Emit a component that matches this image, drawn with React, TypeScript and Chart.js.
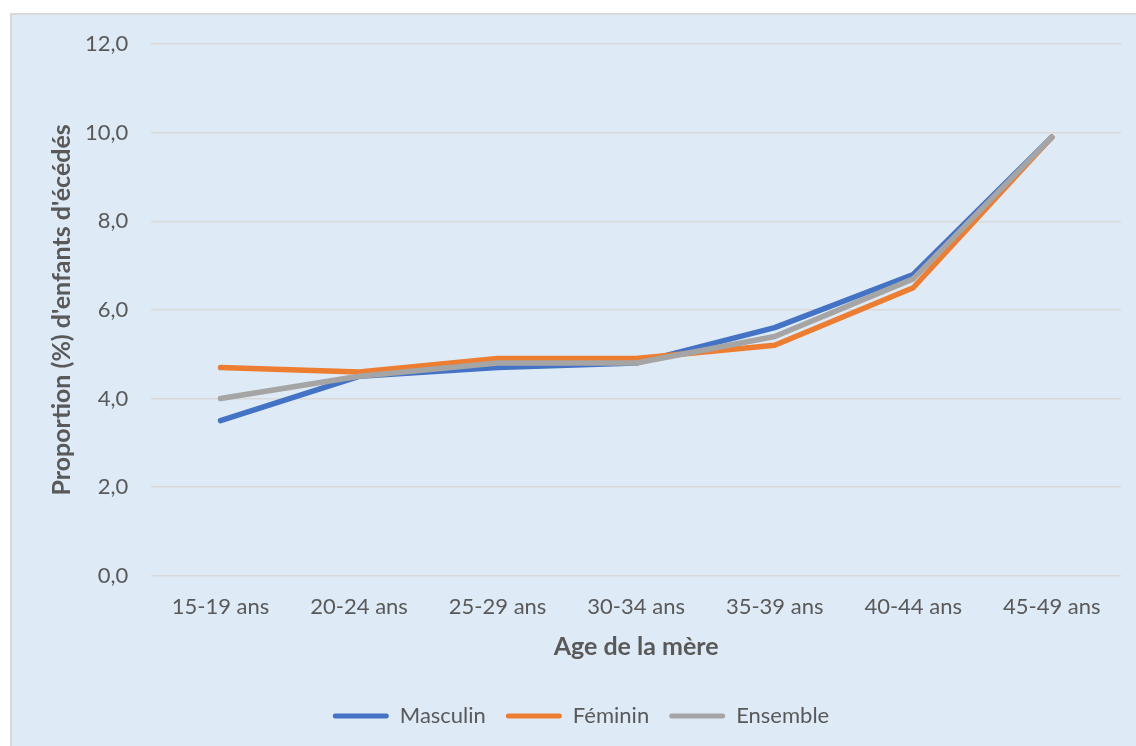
import React, { useEffect, useRef } from "react";
import { Chart, registerables } from "chart.js";

Chart.register(...registerables);

const categories = [
  "15-19 ans",
  "20-24 ans",
  "25-29 ans",
  "30-34 ans",
  "35-39 ans",
  "40-44 ans",
  "45-49 ans",
];

const masculin = [3.5, 4.5, 4.7, 4.8, 5.6, 6.8, 9.9];
const feminin = [4.7, 4.6, 4.9, 4.9, 5.2, 6.5, 9.9];
const ensemble = [4.0, 4.5, 4.8, 4.8, 5.4, 6.7, 9.9];

const FONT = "Lato, 'Open Sans', sans-serif";
const TEXT = "#595959";
const GRID = "#D9D9D9";

function line(label: string, data: number[], color: string, order: number) {
  return {
    label,
    data,
    borderColor: color,
    backgroundColor: color,
    borderWidth: 5.5,
    borderCapStyle: "round" as const,
    borderJoinStyle: "round" as const,
    pointRadius: 0,
    pointHoverRadius: 0,
    tension: 0,
    fill: false,
    order,
  };
}

export default function App() {
  const canvasRef = useRef<HTMLCanvasElement | null>(null);

  useEffect(() => {
    document.body.style.overflow = "hidden";
    const canvas = canvasRef.current;
    if (!canvas) return;
    const chart = new Chart(canvas, {
      type: "line",
      data: {
        labels: categories,
        datasets: [
          line("Masculin", masculin, "#4472C4", 3),
          line("Féminin", feminin, "#ED7D31", 2),
          line("Ensemble", ensemble, "#A5A5A5", 1),
        ],
      },
      options: {
        animation: false,
        responsive: true,
        maintainAspectRatio: false,
        layout: { padding: { top: 0, right: 13, bottom: 9, left: 29 } },
        plugins: {
          tooltip: { enabled: false },
          legend: {
            position: "bottom",
            labels: {
              color: TEXT,
              font: { family: FONT, size: 22 },
              boxWidth: 56,
              boxHeight: 5,
              padding: 20,
              useBorderRadius: true,
              borderRadius: 2.5,
              generateLabels: (ch: any) =>
                ch.data.datasets.map((ds: any, i: number) => ({
                  text: ds.label,
                  fillStyle: ds.borderColor,
                  strokeStyle: ds.borderColor,
                  lineWidth: 0,
                  fontColor: TEXT,
                  hidden: false,
                  datasetIndex: i,
                  borderRadius: 2.5,
                })),
            },
          },
        },
        scales: {
          x: {
            offset: true,
            grid: { display: false, drawTicks: false },
            border: { display: false },
            ticks: {
              color: TEXT,
              font: { family: FONT, size: 22 },
              padding: 18,
              maxRotation: 0,
            },
            title: {
              display: true,
              text: "Age de la mère",
              color: TEXT,
              font: { family: FONT, size: 25, weight: "bold" },
              padding: { top: -6, bottom: 23 },
            },
          },
          y: {
            min: 0,
            max: 12,
            grid: { color: GRID, lineWidth: 1.5, drawTicks: false },
            border: { display: false },
            ticks: {
              stepSize: 2,
              color: TEXT,
              font: { family: FONT, size: 22 },
              padding: 23,
              callback: (v: any) => Number(v).toFixed(1).replace(".", ","),
            },
            title: {
              display: true,
              text: "Proportion (%) d'enfants d'écédés",
              color: TEXT,
              font: { family: FONT, size: 25, weight: "bold" },
              padding: { top: 6, bottom: -15 },
            },
          },
        },
      },
    });
    return () => chart.destroy();
  }, []);

  return (
    <div
      style={{
        position: "fixed",
        left: 10,
        top: 13,
        width: 1140,
        height: 745,
        boxSizing: "border-box",
        border: "2px solid #D9D9D9",
        background: "#DEEAF6",
      }}
    >
      <div style={{ position: "absolute", left: 0, top: -7, width: 1122, height: 738 }}>
        <canvas ref={canvasRef} />
      </div>
    </div>
  );
}
